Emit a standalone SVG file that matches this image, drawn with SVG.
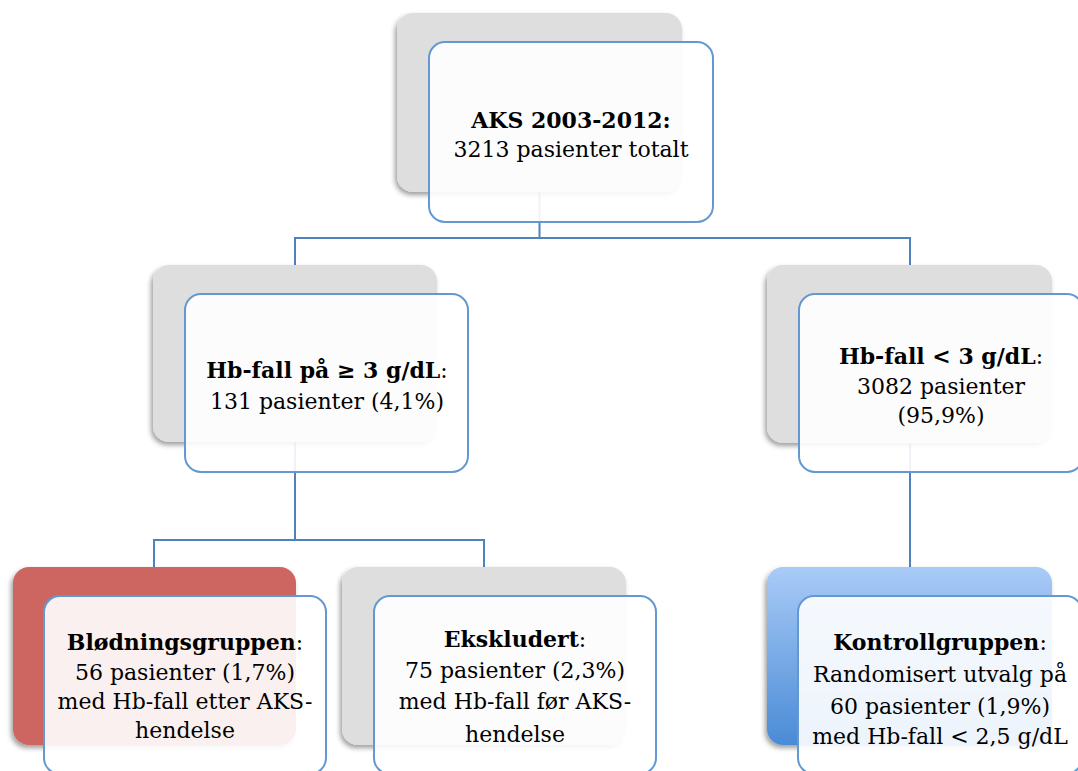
<svg xmlns="http://www.w3.org/2000/svg" width="1078" height="771" viewBox="0 0 1078 771">
  <defs>
    <filter id="ds" x="-10%" y="-10%" width="120%" height="125%">
      <feDropShadow dx="-2" dy="3" stdDeviation="2.5" flood-color="#000" flood-opacity="0.38"/>
    </filter>
    <linearGradient id="blueGrad" x1="0" y1="0" x2="0" y2="1">
      <stop offset="0" stop-color="#a9cbf7"/>
      <stop offset="1" stop-color="#4a8bd6"/>
    </linearGradient>
    <style>
      .back { fill: #dedede; filter: url(#ds); }
      .red { fill: #cd6660; }
      .blue { fill: url(#blueGrad); }
      .front { fill: #ffffff; fill-opacity: 0.9; stroke: #6398d2; stroke-width: 2; }
      .conn { fill: none; stroke: #4f81bd; stroke-width: 2; }
      text { font-family: "DejaVu Serif", "Liberation Serif", serif; font-size: 22px; fill: #000; text-anchor: middle; }
      .b { font-weight: bold; }
    </style>
  </defs>
  <rect width="1078" height="771" fill="#ffffff"/>

  <g id="connectors">
    <path class="conn" d="M539.5,192 V238 M295,238 H910 M295,237 V266 M910,237 V266"/>
    <path class="conn" d="M295,442 V540 M154,540 H484 M154,539 V568 M484,539 V568"/>
    <path class="conn" d="M910,442 V568"/>
  </g>

  <g id="node-aks">
    <rect class="back" x="397" y="13" width="285" height="179" rx="16"/>
    <rect class="front" x="429" y="42" width="284" height="180" rx="16"/>
    <text x="571" y="128"><tspan class="b">AKS 2003-2012:</tspan></text>
    <text x="571" y="157">3213 pasienter totalt</text>
  </g>

  <g id="node-hb-high">
    <rect class="back" x="153" y="265" width="284" height="177" rx="16"/>
    <rect class="front" x="185" y="294" width="283" height="178" rx="16"/>
    <text x="327" y="378"><tspan class="b">Hb-fall på ≥ 3 g/dL</tspan>:</text>
    <text x="327" y="409">131 pasienter (4,1%)</text>
  </g>

  <g id="node-hb-low">
    <rect class="back" x="767" y="265" width="285" height="178" rx="16"/>
    <rect class="front" x="799" y="294" width="284" height="178" rx="16"/>
    <text x="941" y="364"><tspan class="b">Hb-fall &lt; 3 g/dL</tspan>:</text>
    <text x="941" y="394">3082 pasienter</text>
    <text x="941" y="423">(95,9%)</text>
  </g>

  <g id="node-blodning">
    <rect class="back red" x="13" y="567" width="283" height="178" rx="16"/>
    <rect class="front" x="44" y="596" width="282" height="178" rx="16"/>
    <text x="185" y="650"><tspan class="b">Blødningsgruppen</tspan>:</text>
    <text x="185" y="680">56 pasienter (1,7%)</text>
    <text x="185" y="709">med Hb-fall etter AKS-</text>
    <text x="185" y="738">hendelse</text>
  </g>

  <g id="node-ekskludert">
    <rect class="back" x="342" y="567" width="284" height="178" rx="16"/>
    <rect class="front" x="374" y="596" width="282" height="178" rx="16"/>
    <text x="515" y="647"><tspan class="b">Ekskludert</tspan>:</text>
    <text x="515" y="678">75 pasienter (2,3%)</text>
    <text x="515" y="709">med Hb-fall før AKS-</text>
    <text x="515" y="742">hendelse</text>
  </g>

  <g id="node-kontroll">
    <rect class="back blue" x="767" y="567" width="285" height="178" rx="16"/>
    <rect class="front" x="798" y="596" width="284" height="178" rx="16"/>
    <text x="940" y="650"><tspan class="b">Kontrollgruppen</tspan>:</text>
    <text x="940" y="682">Randomisert utvalg på</text>
    <text x="940" y="714">60 pasienter (1,9%)</text>
    <text x="940" y="744">med Hb-fall &lt; 2,5 g/dL</text>
  </g>
</svg>
